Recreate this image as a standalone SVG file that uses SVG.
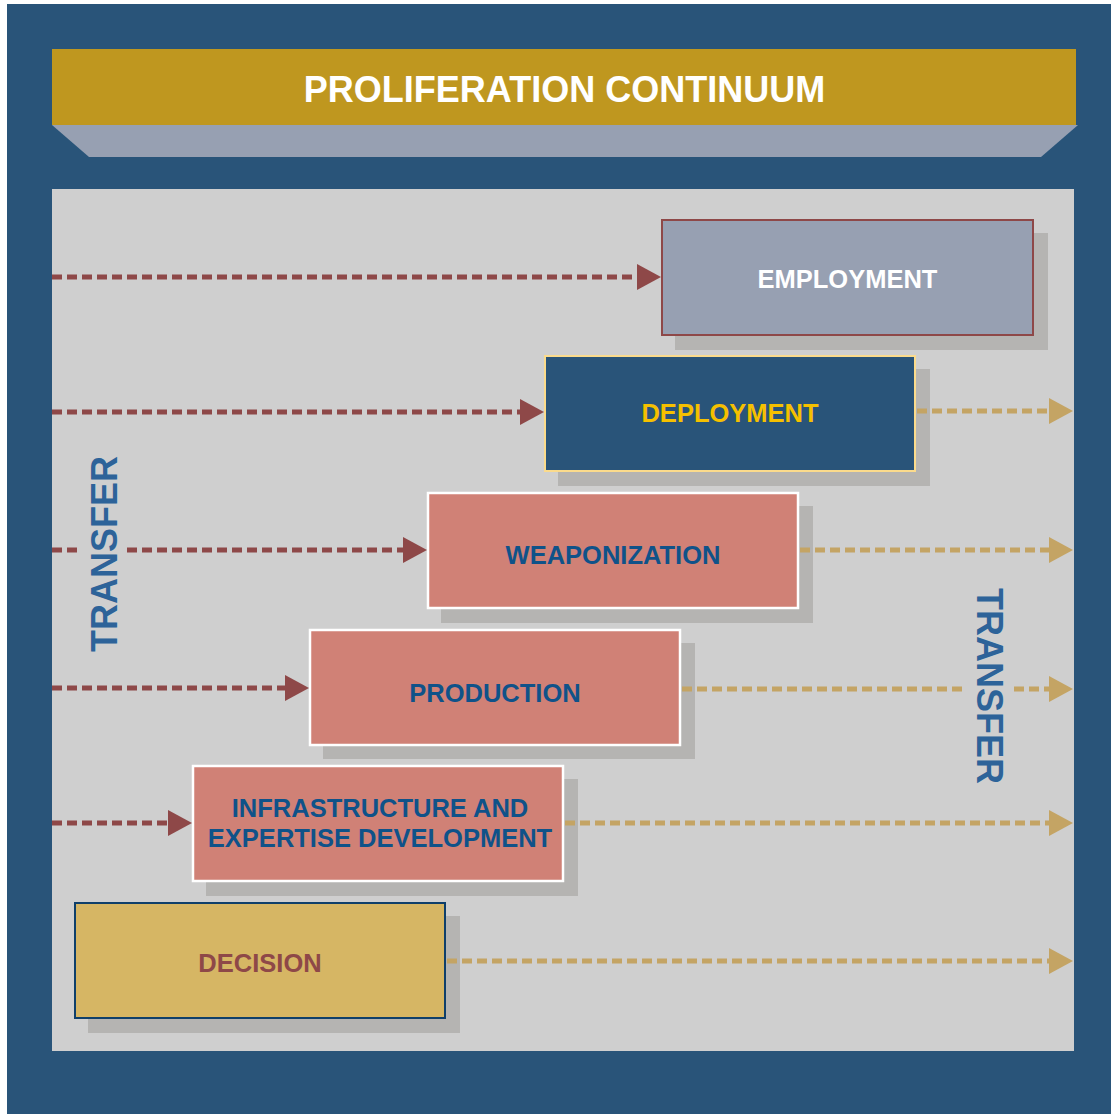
<svg xmlns="http://www.w3.org/2000/svg" width="1111" height="1114" viewBox="0 0 1111 1114">
<defs>
<style>
.lbl{font-family:"Liberation Sans",Arial,sans-serif;font-weight:bold;font-size:25.5px;text-anchor:middle}
.shadow{fill:#b5b4b2}
.red{stroke:#8e4848;stroke-width:5;stroke-dasharray:10 5;fill:none}
.tan{stroke:#c4a464;stroke-width:5;stroke-dasharray:10 5;fill:none}
.redhead{fill:#8e4848}
.tanhead{fill:#c4a464}
.transfer{font-family:"Liberation Sans",Arial,sans-serif;font-weight:bold;font-size:36px;fill:#2d6399;text-anchor:middle}
</style>
</defs>
<rect x="7" y="4" width="1104" height="1110" fill="#295479"/>
<g id="title">
<rect x="52" y="49" width="1024" height="76" fill="#bf971f"/>
<polygon points="52,125 1078,125 1041,157 89,157" fill="#97a0b2"/>
<text x="564.5" y="102" font-family="Liberation Sans,Arial,sans-serif" font-weight="bold" font-size="36" fill="#ffffff" text-anchor="middle">PROLIFERATION CONTINUUM</text>
</g>
<rect x="52" y="189" width="1022" height="862" fill="#cfcfcf"/>
<g id="employment">
<rect class="shadow" x="675" y="233" width="373" height="117"/>
<rect x="662" y="220" width="371" height="115" fill="#97a0b2" stroke="#8e4848" stroke-width="2"/>
<text class="lbl" x="847.5" y="287.5" fill="#ffffff">EMPLOYMENT</text>
</g>
<g id="deployment">
<rect class="shadow" x="558" y="369" width="372" height="117"/>
<rect x="545" y="356" width="370" height="115" fill="#295479" stroke="#fbdb8c" stroke-width="2"/>
<text class="lbl" x="730" y="422" fill="#f5c000">DEPLOYMENT</text>
</g>
<g id="weaponization">
<rect class="shadow" x="441" y="506" width="372" height="117"/>
<rect x="428" y="493" width="370" height="115" fill="#d08176" stroke="#ffffff" stroke-width="2.5"/>
<text class="lbl" x="613" y="564" fill="#0f5289">WEAPONIZATION</text>
</g>
<g id="production">
<rect class="shadow" x="323" y="643" width="372" height="116"/>
<rect x="310" y="630" width="370" height="115" fill="#d08176" stroke="#ffffff" stroke-width="2.5"/>
<text class="lbl" x="495" y="702" fill="#0f5289">PRODUCTION</text>
</g>
<g id="infrastructure">
<rect class="shadow" x="206" y="779" width="372" height="117"/>
<rect x="193" y="766" width="370" height="115" fill="#d08176" stroke="#ffffff" stroke-width="2.5"/>
<text class="lbl" x="380" y="817" fill="#0f5289">INFRASTRUCTURE AND</text>
<text class="lbl" x="380" y="846.5" fill="#0f5289">EXPERTISE DEVELOPMENT</text>
</g>
<g id="decision">
<rect class="shadow" x="88" y="916" width="372" height="117"/>
<rect x="75" y="903" width="370" height="115" fill="#d6b664" stroke="#0f3f6a" stroke-width="2"/>
<text class="lbl" x="260" y="971.5" fill="#8e4848">DECISION</text>
</g>
<g id="connectors">
<line class="red" x1="52" y1="277" x2="637" y2="277"/>
<polygon class="redhead" points="637,264 661,277 637,290"/>
<line class="red" x1="52" y1="412" x2="520" y2="412"/>
<polygon class="redhead" points="520,399 544,412 520,425"/>
<line class="red" x1="52" y1="550" x2="78" y2="550"/>
<line class="red" x1="127" y1="550" x2="403" y2="550"/>
<polygon class="redhead" points="403,537 427,550 403,563"/>
<line class="red" x1="52" y1="688" x2="285" y2="688"/>
<polygon class="redhead" points="285,675 309,688 285,701"/>
<line class="red" x1="52" y1="823" x2="168" y2="823"/>
<polygon class="redhead" points="168,810 192,823 168,836"/>
<line class="tan" x1="917" y1="411" x2="1049" y2="411"/>
<polygon class="tanhead" points="1049,398 1073,411 1049,424"/>
<line class="tan" x1="800" y1="550" x2="1049" y2="550"/>
<polygon class="tanhead" points="1049,537 1073,550 1049,563"/>
<line class="tan" x1="682" y1="689" x2="966" y2="689"/>
<line class="tan" x1="1014" y1="689" x2="1049" y2="689"/>
<polygon class="tanhead" points="1049,676 1073,689 1049,702"/>
<line class="tan" x1="565" y1="823" x2="1049" y2="823"/>
<polygon class="tanhead" points="1049,810 1073,823 1049,836"/>
<line class="tan" x1="447" y1="961" x2="1049" y2="961"/>
<polygon class="tanhead" points="1049,948 1073,961 1049,974"/>
</g>
<g id="transfer-left">
<text class="transfer" transform="translate(117,554) rotate(-90)">TRANSFER</text>
</g>
<g id="transfer-right">
<text class="transfer" transform="translate(977,686) rotate(90)">TRANSFER</text>
</g>
</svg>
